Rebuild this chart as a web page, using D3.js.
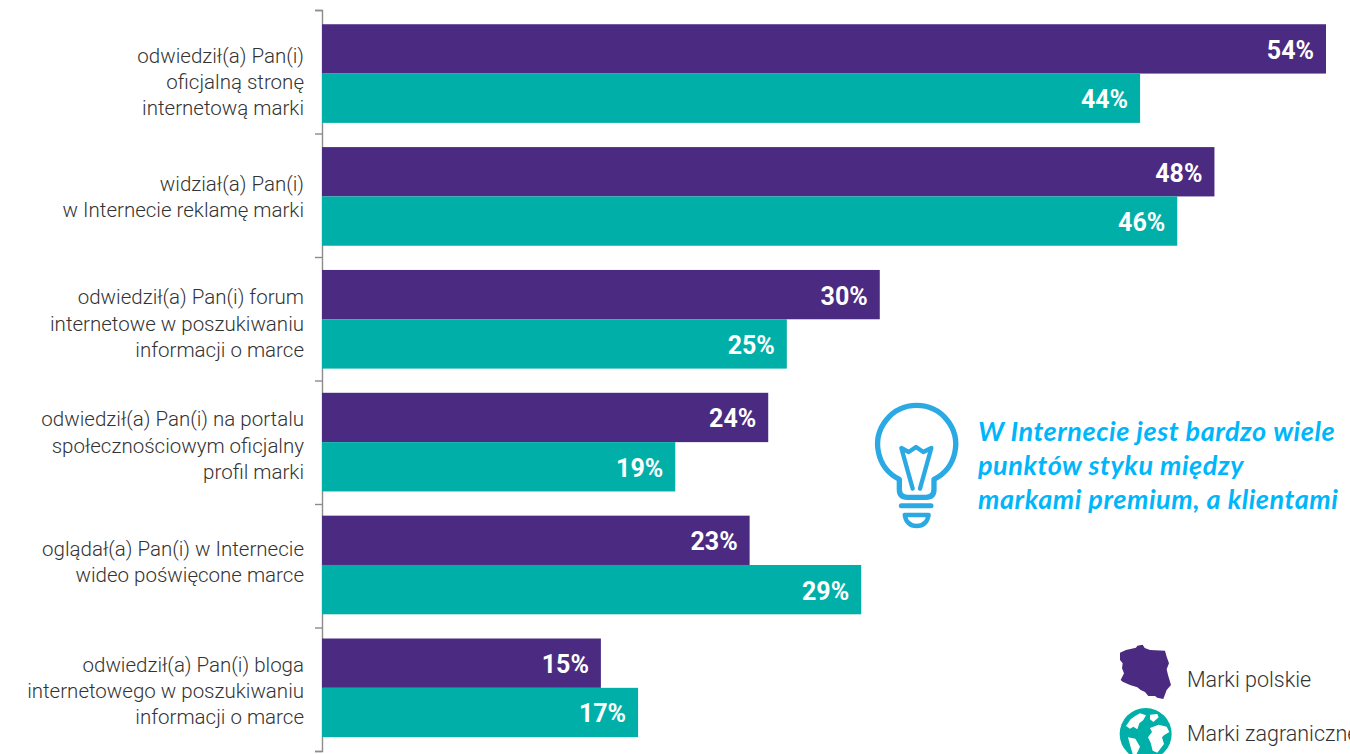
<!DOCTYPE html>
<html lang="pl">
<head>
<meta charset="utf-8">
<title>Punkty styku marek premium w Internecie</title>
<script src="https://cdn.jsdelivr.net/npm/d3@7"></script>
<style>
  html, body { margin: 0; padding: 0; background: #fff; overflow: hidden; }
  svg { display: block; }
  .cat { font-family: Roboto, sans-serif; font-weight: 300; font-size: 20.5px; fill: #333; }
  .val { font-family: Roboto, sans-serif; font-weight: 700; font-size: 25px; fill: #fff; }
  .note { font-family: Lato, sans-serif; font-weight: 700; font-style: italic; font-size: 27px; letter-spacing: 0.55px; fill: #00b6fb; }
  .leg { font-family: Roboto, sans-serif; font-weight: 300; font-size: 21.5px; fill: #333; }
</style>
</head>
<body>
<svg id="chart" width="1350" height="754"></svg>
<script>
// Chart content
const categories = ["a", "b", "c", "d", "e", "f"];
const categoryLines = [
  ["odwiedził(a) Pan(i)", "oficjalną stronę", "internetową marki"],
  ["widział(a) Pan(i)", "w Internecie reklamę marki"],
  ["odwiedził(a) Pan(i) forum", "internetowe w poszukiwaniu", "informacji o marce"],
  ["odwiedził(a) Pan(i) na portalu", "społecznościowym oficjalny", "profil marki"],
  ["oglądał(a) Pan(i) w Internecie", "wideo poświęcone marce"],
  ["odwiedził(a) Pan(i) bloga", "internetowego w poszukiwaniu", "informacji o marce"]
];
const seriesKeys = ["polskie", "zagraniczne"];
const polskie = [54, 48, 30, 24, 23, 15];
const zagraniczne = [44, 46, 25, 19, 29, 17];
const noteLines = ["W Internecie jest bardzo wiele", "punktów styku między", "markami premium, a klientami"];
const legendLabels = ["Marki polskie", "Marki zagraniczne"];

const PURPLE = "#4b2a82";
const TEAL = "#00b0a8";

const svg = d3.select("#chart");

// Scales
const x = d3.scaleLinear().domain([0, 54]).range([322, 1326]);
const yBars = d3.scaleBand().domain(categories).range([12.2, 749.2]).paddingInner(0.197).paddingOuter(0.098);
const ySeries = d3.scaleBand().domain(seriesKeys).range([0, yBars.bandwidth()]);
const yTicks = d3.scaleLinear().domain([0, 6]).range([10, 751]);

// Category axis: a spine with ticks between the groups
const axis = svg.append("g")
  .attr("transform", "translate(322,0)")
  .call(d3.axisLeft(yTicks).ticks(6).tickSize(7).tickSizeOuter(7).tickFormat(""));
axis.selectAll("path, line").attr("stroke", "#8c8c8c").attr("stroke-width", 1.4);

// Bars and their value labels
const rows = categories.map((c, i) => ({ c, i, polskie: polskie[i], zagraniczne: zagraniczne[i] }));
const groups = svg.selectAll("g.row").data(rows).join("g")
  .attr("class", "row")
  .attr("transform", d => `translate(0,${yBars(d.c)})`);

seriesKeys.forEach((key, k) => {
  groups.append("rect")
    .attr("x", x(0))
    .attr("y", ySeries(key))
    .attr("width", d => x(d[key]) - x(0))
    .attr("height", ySeries.bandwidth())
    .attr("fill", k === 0 ? PURPLE : TEAL);
  groups.append("text")
    .attr("class", "val")
    .attr("x", d => x(d[key]) - 12)
    .attr("y", ySeries(key) + ySeries.bandwidth() / 2 + 10)
    .attr("text-anchor", "end")
    .text(d => d[key] + "%");
});

// Category labels, right aligned; the block sits a little above each group's centre
const LINE = 26.3;
const labelTop = [38.5, 43.5, 34.5, 33.5, 40.5, 33];
groups.append("text")
  .attr("class", "cat")
  .attr("text-anchor", "end")
  .each(function (d) {
    d3.select(this).selectAll("tspan").data(categoryLines[d.i]).join("tspan")
      .attr("x", 304)
      .attr("y", (l, j) => labelTop[d.i] + j * LINE)
      .text(l => l);
  });

// Light bulb icon beside the note
const bulb = svg.append("g")
  .attr("transform", "translate(860,390) scale(0.3333)")
  .attr("fill", "none").attr("stroke", "#2ba9e3").attr("stroke-linecap", "round").attr("stroke-linejoin", "round");
bulb.append("path").attr("stroke-width", 16)
  .attr("d", "M118,268 A117,117 0 1 1 222,268 V298 Q222,322 198,322 H142 Q118,322 118,298 Z");
bulb.append("path").attr("stroke-width", 13)
  .attr("d", "M158,296 L124,174 L146,186 L168,171 L190,186 L214,174 L180,296");
bulb.append("path").attr("stroke-width", 15).attr("d", "M124,347 H213");
bulb.append("path").attr("stroke-width", 13)
  .attr("d", "M134,375 H206 Q200,408 170,408 Q140,408 134,375 Z");

// Note text
svg.append("g").selectAll("text").data(noteLines).join("text")
  .attr("class", "note")
  .attr("x", 978)
  .attr("y", (d, i) => 441 + i * 34)
  .text(d => d);

// Legend: outline of Poland
svg.append("path")
  .attr("transform", "translate(1100,630) scale(0.3333)")
  .attr("fill", PURPLE)
  .attr("d", "M60,68 L78,60 L108,53 L112,47 L128,44 L134,54 L150,60 L195,62 L200,80 L207,100 L200,118 L204,135 L213,165 L200,180 L190,207 L172,203 L165,198 L145,198 L135,186 L122,180 L112,172 L90,165 L68,155 L62,150 L72,130 L66,115 L68,100 L60,90 Z");

// Legend: globe
const globe = svg.append("g").attr("transform", "translate(1100,630) scale(0.3333)");
globe.append("circle").attr("cx", 137).attr("cy", 312).attr("r", 78).attr("fill", TEAL);
globe.append("g").attr("fill", "#fff").selectAll("path").data([
  "M120,250 Q104,258 92,268 L78,288 L90,296 L100,290 L112,298 L118,280 L130,270 L138,256 Z",
  "M84,322 L106,326 L120,350 L110,372 L100,378 L92,352 Z",
  "M150,294 L176,284 L200,290 L208,306 L192,316 L186,322 L192,342 L172,368 L158,362 L152,338 L144,322 L156,306 Z",
  "M150,254 L172,252 L176,262 L160,276 L150,268 Z"
]).join("path").attr("d", d => d);

// Legend labels
svg.append("g").selectAll("text").data(legendLabels).join("text")
  .attr("class", "leg")
  .attr("x", 1187)
  .attr("y", (d, i) => 687 + i * 53.5)
  .text(d => d);
</script>
</body>
</html>
